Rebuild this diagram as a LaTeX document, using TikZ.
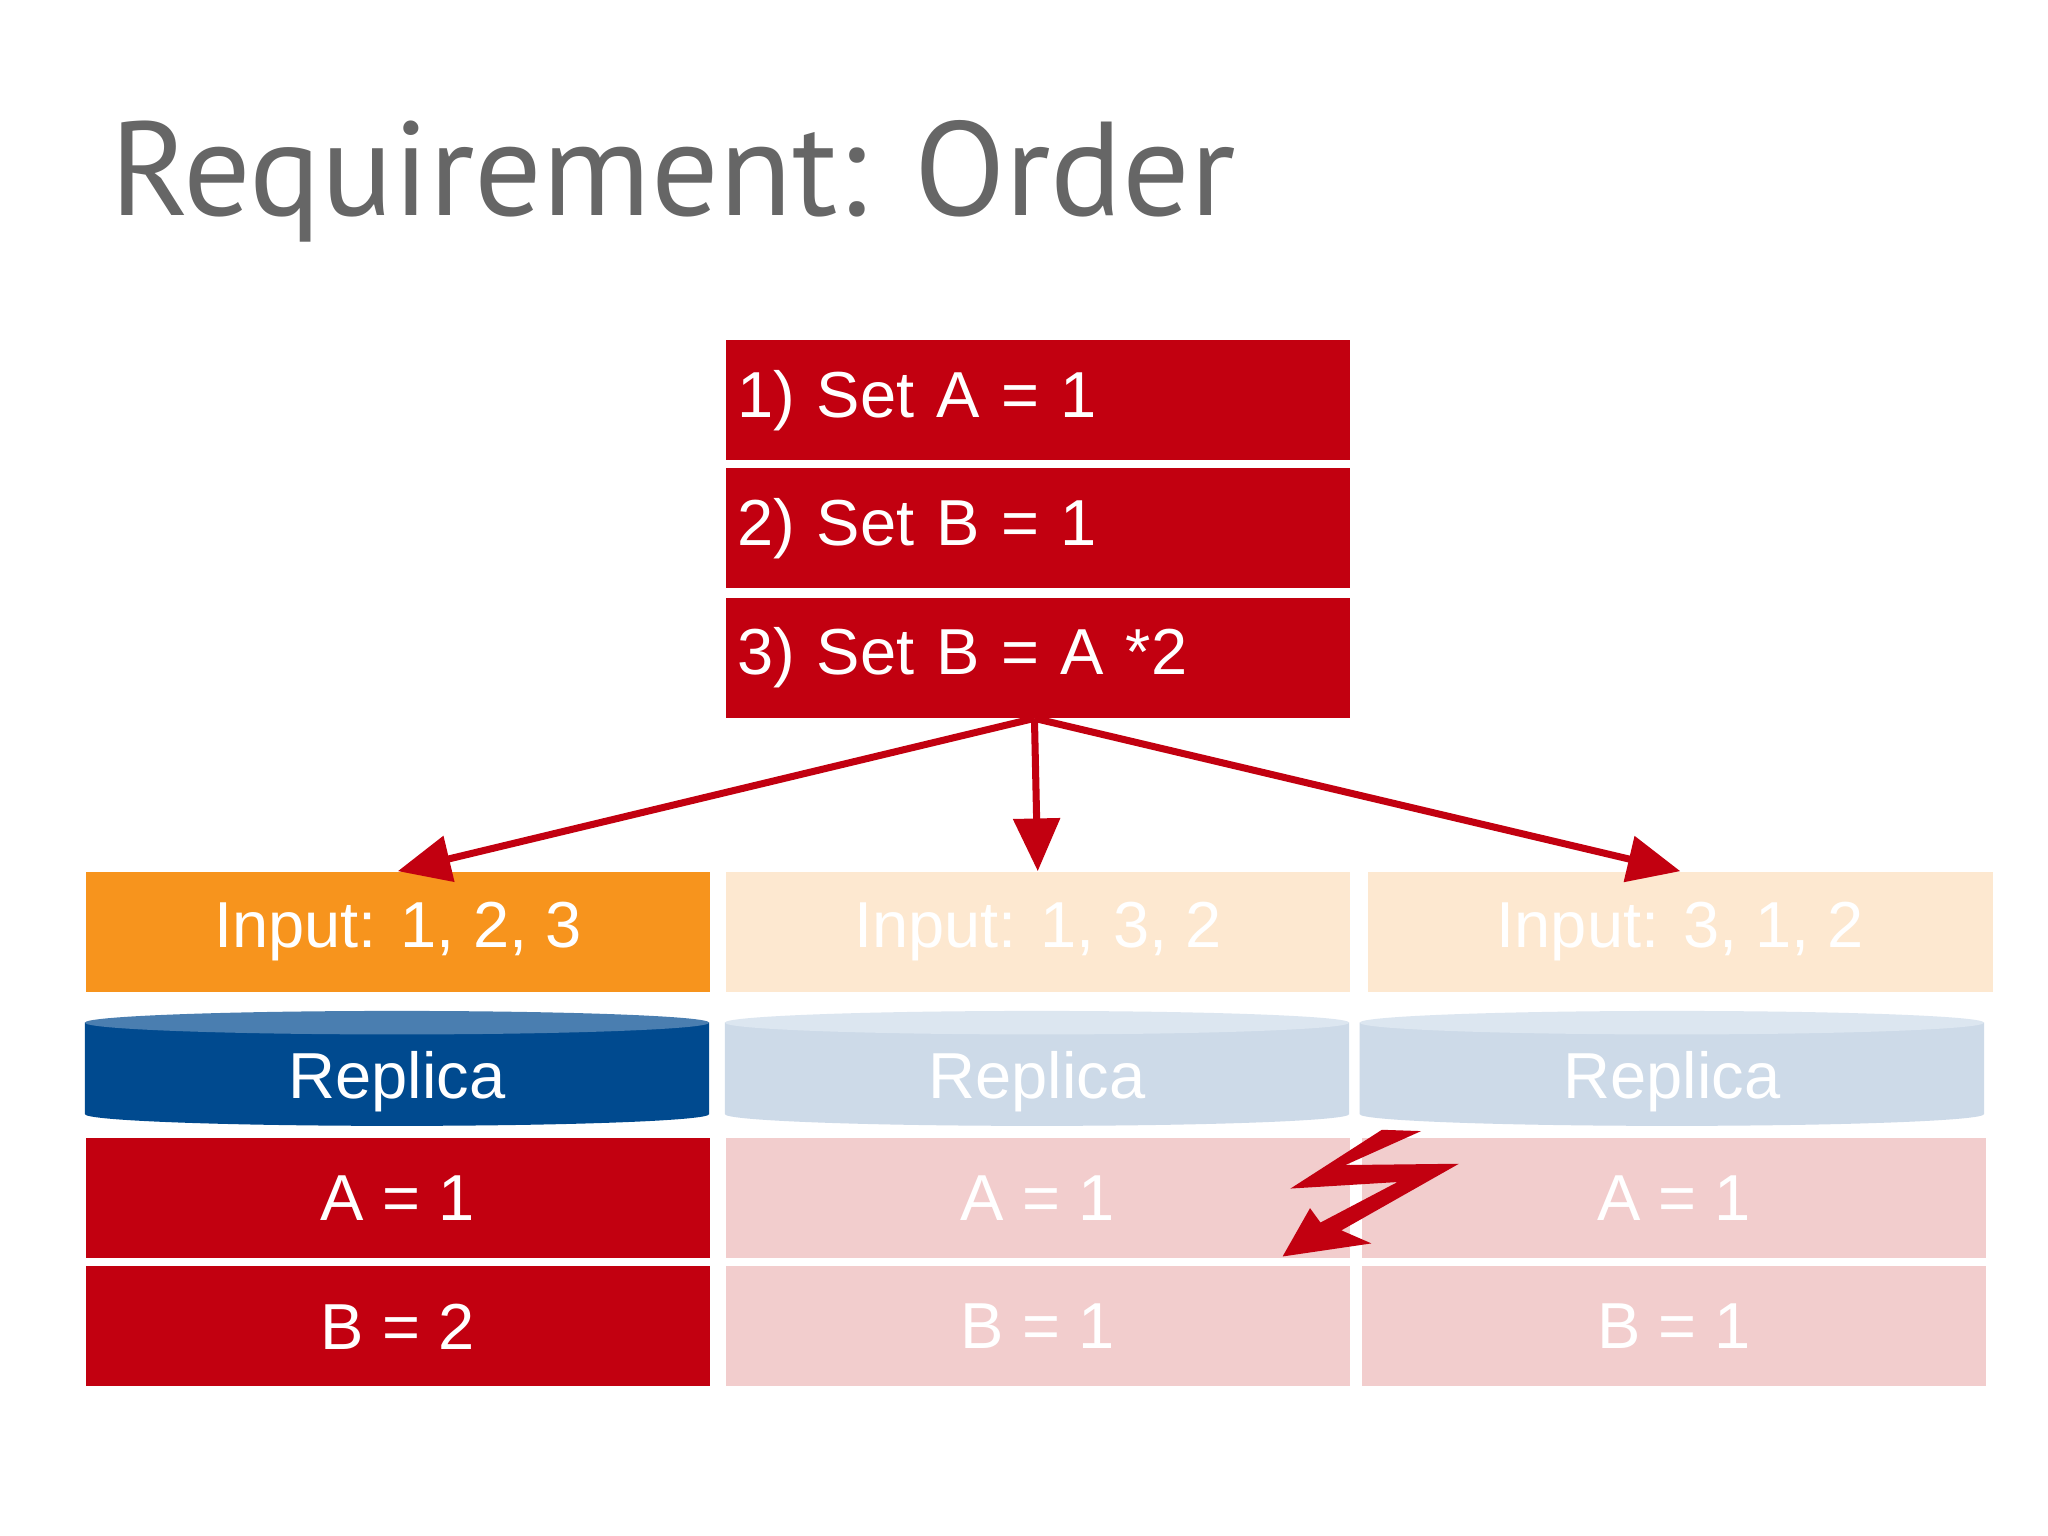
\documentclass[tikz,border=0pt]{standalone}
\usepackage{fontspec}
\setmainfont{Liberation Sans}
\newfontfamily\titlefont{PT Sans}
\usetikzlibrary{arrows.meta,shapes.geometric}
\definecolor{dred}{HTML}{C20010}
\definecolor{lred}{HTML}{F2CDCD}
\definecolor{orng}{HTML}{F7941D}
\definecolor{lorng}{HTML}{FDE8D0}
\definecolor{dblue}{HTML}{004A8F}
\definecolor{mblue}{HTML}{4A7EB0}
\definecolor{lblue}{HTML}{CDDAE8}
\definecolor{lblue2}{HTML}{DCE6F0}
\definecolor{tgray}{HTML}{666666}
\begin{document}
\begin{tikzpicture}[x=0.013061cm,y=-0.013061cm,
  box/.style={draw=none,minimum width=478*0.013061cm,minimum height=92*0.013061cm,inner sep=0,anchor=north west,text=white,font=\fontsize{18.5}{22}\selectfont},
  cmdbox/.style={box,fill=dred,align=left,text width=460*0.013061cm},
  arr/.style={draw=dred,line width=2pt,-{Triangle[length=15pt,width=13pt]}}]
\useasboundingbox (0,0) rectangle (1568,1176);
\fill[white] (0,0) rectangle (1568,1176);
\node[anchor=base west,text=tgray,font=\titlefont\fontsize{38}{44}\selectfont,inner sep=0] (title) at (84,165) {Requirement: Order};
\node[cmdbox] (s1) at (555,260) {1) Set A = 1};
\node[cmdbox] (s2) at (555,358) {2) Set B = 1};
\node[cmdbox] (s3) at (555,457) {3) Set B = A *2};
\node[box,fill=orng] (i1) at (65,667) {Input: 1, 2, 3};
\node[box,fill=lorng] (i2) at (555,667) {Input: 1, 3, 2};
\node[box,fill=lorng] (i3) at (1047,667) {Input: 3, 1, 2};
\coordinate (src) at (792,550);
\draw[arr] (src) -- (i1.north);
\draw[arr] (src) -- (i2.north);
\draw[arr] (src) -- (i3.north);
\foreach \x/\c/\t/\n in {65/dblue/mblue/r1,555/lblue/lblue2/r2,1041/lblue/lblue2/r3}{
  \fill[\c] (\x,783) -- (\x,853) arc[start angle=180,end angle=0,x radius=239,y radius=9] -- (\x+478,783) -- cycle;
  \fill[\t] (\x+239,783) ellipse[x radius=239,y radius=9];
  \node[text=white,font=\fontsize{18.5}{22}\selectfont] (\n) at (\x+239,828) {Replica};
}
\node[box,fill=dred] (a1) at (65,871) {A = 1};
\node[box,fill=lred] (a2) at (555,871) {A = 1};
\node[box,fill=lred] (a3) at (1042,871) {A = 1};
\node[box,fill=dred] (b1) at (65,969) {B = 2};
\node[box,fill=lred] (b2) at (555,969) {B = 1};
\node[box,fill=lred] (b3) at (1042,969) {B = 1};
\fill[dred] (1058,865) -- (1088,866) -- (1030,892) -- (1117,891) -- (1027,942) -- (1050,952) -- (982,962) -- (1003,925) -- (1011,936) -- (1070,905) -- (988,910) -- cycle;
\end{tikzpicture}
\end{document}
